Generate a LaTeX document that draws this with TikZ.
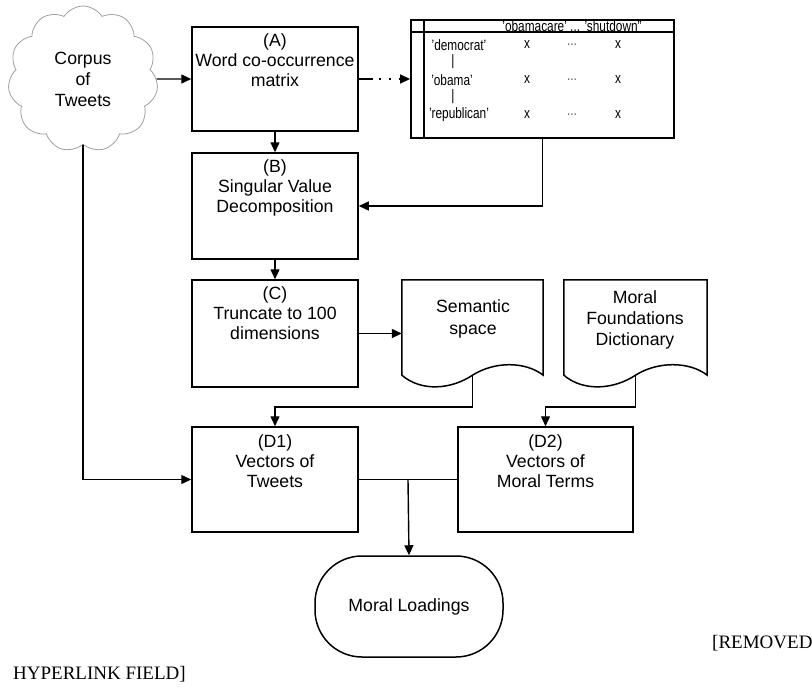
\documentclass[tikz,border=0pt]{standalone}
\usepackage{fontspec}
\setmainfont{Liberation Sans}
\newfontfamily\serifrm{Liberation Serif}
\usetikzlibrary{arrows.meta,shapes.symbols,calc}
\begin{document}
\begin{tikzpicture}[x=1pt,y=-1pt,
  box/.style={draw, line width=1.5pt, minimum width=166pt, inner sep=0pt},
  boxtxt/.style={font=\fontsize{17.7}{20}\selectfont, align=center, inner sep=0pt, anchor=north, yshift=-7.5pt},
  conn/.style={line width=1.4pt},
  arr/.style={conn, -{Triangle[length=10pt,width=9pt]}},
  mtxt/.style={font=\fontsize{15}{17}\selectfont, xscale=0.79, inner sep=0pt},
  docline/.style={line width=1.5pt, line join=miter},
  reftxt/.style={font=\serifrm\fontsize{19}{22}\selectfont, anchor=base west, inner sep=0pt}
]
\useasboundingbox (0,0) rectangle (812,688);

% cloud
\node[cloud, cloud puffs=11, cloud puff arc=115, aspect=1.05, draw=gray!75, line width=0.8pt,
      minimum width=150pt, minimum height=146pt, inner sep=0pt, align=center,
      font=\fontsize{17.7}{21}\selectfont] (cloud) at (83,79) {Corpus\\of\\Tweets};

% boxes
\node[box, minimum height=104pt] (A) at (275,79) {};
\node[boxtxt] (Atxt) at (A.north) {(A)\\Word co-occurrence\\matrix};
\node[box, minimum height=106pt] (B) at (275,206) {};
\node[boxtxt] (Btxt) at (B.north) {(B)\\Singular Value\\Decomposition};
\node[box, minimum height=107pt] (C) at (275,333.5) {};
\node[boxtxt] (Ctxt) at (C.north) {(C)\\Truncate to 100\\dimensions};
\node[box, minimum height=105pt] (D1) at (275,479.5) {};
\node[boxtxt, yshift=-1pt] (D1txt) at (D1.north) {(D1)\\Vectors of\\Tweets};
\node[box, minimum height=105pt, minimum width=175pt] (D2) at (545.5,479.5) {};
\node[boxtxt, yshift=-1pt] (D2txt) at (D2.north) {(D2)\\Vectors of\\Moral Terms};

% matrix
\node[draw, line width=1.8pt, minimum width=263pt, minimum height=118pt, inner sep=0pt] (M) at (542.5,79) {};
\draw[line width=1.8pt] ($(M.north west)+(0,13)$) -- ($(M.north east)+(0,13)$);
\draw[line width=1.8pt] ($(M.north west)+(14,0)$) -- ($(M.south west)+(14,0)$);
\node[mtxt] (hdr) at (572,26) {'obamacare' ... 'shutdown''};
\node[mtxt] (r1) at (459,45) {'democrat'};
\node[mtxt] (r2) at (452,80) {'obama'};
\node[mtxt] (r3) at (459,115) {'republican'};
\node[mtxt] (b1) at (453,62) {|};
\node[mtxt] (b2) at (453,97) {|};
\foreach \yy/\nm in {45/a,80/b,115/c}{
  \node[mtxt] (x1\nm) at (527,\yy) {x};
  \node[mtxt, text=gray!70!black] (d\nm) at (572,\yy) {...};
  \node[mtxt] (x2\nm) at (618,\yy) {x};
}

% documents
\node[minimum width=141pt, minimum height=95pt, inner sep=0pt] (S) at (472.5,327.5) {};
\draw[docline] (S.south west) -- (S.north west) -- (S.north east) -- (S.south east)
  .. controls ($(S.south east)+(-18,-14)$) and ($(S.south)+(22,-14)$) .. (S.south)
  .. controls ($(S.south)+(-21,14)$) and ($(S.south west)+(20,17)$) .. (S.south west) -- cycle;
\node[align=center, inner sep=0pt, font=\fontsize{17.7}{22}\selectfont] (Stxt) at (473,319) {Semantic\\space};

\node[minimum width=143pt, minimum height=95pt, inner sep=0pt] (MFD) at (635.5,327.5) {};
\draw[docline] (MFD.south west) -- (MFD.north west) -- (MFD.north east) -- (MFD.south east)
  .. controls ($(MFD.south east)+(-18,-14)$) and ($(MFD.south)+(22,-14)$) .. (MFD.south)
  .. controls ($(MFD.south)+(-21,14)$) and ($(MFD.south west)+(20,17)$) .. (MFD.south west) -- cycle;
\node[align=center, inner sep=0pt, font=\fontsize{17.7}{21}\selectfont] (MFDtxt) at (635,320) {Moral\\Foundations\\Dictionary};

% moral loadings
\node[draw, line width=1.5pt, rounded corners=47pt, minimum width=188pt, minimum height=101pt,
      font=\fontsize{17.7}{20}\selectfont] (ML) at (409,606.5) {Moral Loadings};

% connectors
\coordinate (bus) at (0,407);
\draw[arr] (cloud.east) -- (A.west);
\draw[arr, dash pattern=on 14pt off 6pt on 2pt off 8pt on 2pt off 8pt] (A.east) -- (M.west);
\draw[arr] (A.south) -- (B.north);
\draw[arr] (M.south) |- (B.east);
\draw[arr] (B.south) -- (C.north);
\draw[arr] (C.east) -- (S.west |- C.east);
\draw[arr] (S.south) -- (S.south |- bus) -| (D1.north);
\draw[arr] (MFD.south) -- (MFD.south |- bus) -| (D2.north);
\draw[arr] (cloud.south) |- (D1.west);
\draw[conn] (D1.east) -- (D2.west);
\coordinate (mid) at ($(D1.east)!0.5!(D2.west)$);
\draw[arr] (mid) -- (ML.north);

% footer text
\node[reftxt] (rem) at (712,648) {[REMOVED};
\node[reftxt] (hyp) at (13,679) {HYPERLINK FIELD]};
\end{tikzpicture}
\end{document}
